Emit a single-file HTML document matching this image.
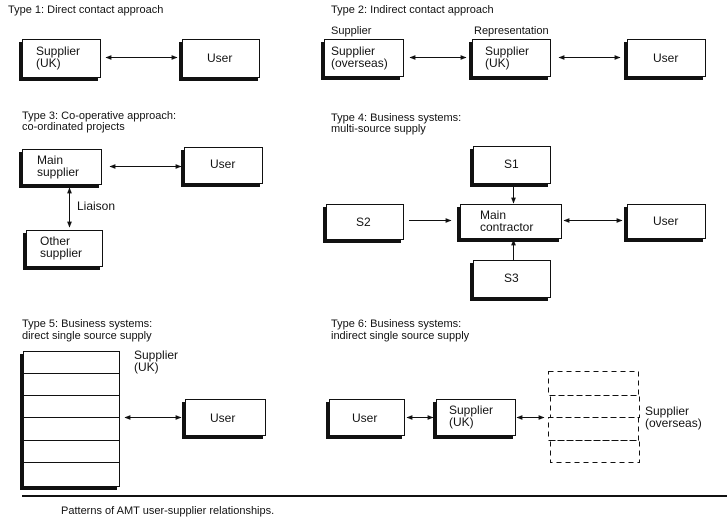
<!DOCTYPE html>
<html><head><style>
html,body{margin:0;padding:0;background:#fff;}
svg{display:block;}
text{font-family:"Liberation Sans",sans-serif;font-size:11px;fill:#111;}
text.b{font-size:12px;}
</style></head><body>
<svg width="727" height="525" viewBox="0 0 727 525">
<defs>
<marker id="a" viewBox="0 0 10 10" refX="9" refY="5" markerWidth="6" markerHeight="6" orient="auto-start-reverse"><path d="M0,1 L10,5 L0,9 Z" fill="#111"/></marker>
</defs>
<g fill="#111">
<rect x="19" y="42" width="79" height="39"/>
<rect x="179" y="42" width="79" height="39"/>
<rect x="321" y="42" width="79" height="38"/>
<rect x="469" y="42" width="79" height="38"/>
<rect x="624" y="42" width="79" height="38"/>
<rect x="19" y="152" width="80" height="36"/>
<rect x="181" y="150" width="79" height="37"/>
<rect x="23" y="233" width="77" height="37"/>
<rect x="470" y="149" width="78" height="38"/>
<rect x="323" y="207" width="78" height="36"/>
<rect x="457" y="207" width="102" height="35"/>
<rect x="624" y="207" width="79" height="35"/>
<rect x="470" y="263" width="78" height="38"/>
<rect x="20" y="354" width="97" height="136"/>
<rect x="182" y="402" width="81" height="37"/>
<rect x="326" y="402" width="76" height="37"/>
<rect x="433" y="402" width="80" height="37"/>
</g>
<g stroke="#111" stroke-width="1" fill="#fff">
<rect x="22.5" y="39.5" width="78" height="38"/>
<rect x="182.5" y="39.5" width="77" height="38"/>
<rect x="324.5" y="39.5" width="79" height="37"/>
<rect x="472.5" y="39.5" width="78" height="37"/>
<rect x="627.5" y="39.5" width="78" height="37"/>
<rect x="22.5" y="149.5" width="79" height="35"/>
<rect x="184.5" y="147.5" width="78" height="36"/>
<rect x="26.5" y="230.5" width="76" height="36"/>
<rect x="473.5" y="146.5" width="77" height="37"/>
<rect x="326.5" y="204.5" width="77" height="35"/>
<rect x="460.5" y="204.5" width="101" height="34"/>
<rect x="627.5" y="204.5" width="78" height="34"/>
<rect x="473.5" y="260.5" width="77" height="37"/>
<rect x="23.5" y="351.5" width="96" height="135"/>
<rect x="185.5" y="399.5" width="80" height="36"/>
<rect x="329.5" y="399.5" width="75" height="36"/>
<rect x="436.5" y="399.5" width="79" height="36"/>
</g>
<g stroke="#111" stroke-width="1">
<line x1="24" y1="373.5" x2="119" y2="373.5"/>
<line x1="24" y1="395.5" x2="119" y2="395.5"/>
<line x1="24" y1="417.5" x2="119" y2="417.5"/>
<line x1="24" y1="440.5" x2="119" y2="440.5"/>
<line x1="24" y1="462.5" x2="119" y2="462.5"/>
</g>
<g stroke="#111" stroke-width="1" fill="none" stroke-dasharray="5,4">
<rect x="548.5" y="371.5" width="90" height="24"/>
<rect x="550.5" y="395.5" width="89" height="22"/>
<rect x="548.5" y="417.5" width="90" height="23"/>
<rect x="550.5" y="440.5" width="89" height="22"/>
</g>
<g stroke="#111" stroke-width="1" marker-start="url(#a)" marker-end="url(#a)">
<line x1="106" y1="57.5" x2="177" y2="57.5"/>
<line x1="410" y1="57.5" x2="466" y2="57.5"/>
<line x1="559" y1="57.5" x2="620" y2="57.5"/>
<line x1="110" y1="166.5" x2="181" y2="166.5"/>
<line x1="69.5" y1="188" x2="69.5" y2="227"/>
<line x1="564" y1="220.5" x2="622" y2="220.5"/>
<line x1="125" y1="417.5" x2="181" y2="417.5"/>
<line x1="407" y1="417.5" x2="433" y2="417.5"/>
<line x1="517" y1="417.5" x2="544" y2="417.5"/>
</g>
<g stroke="#111" stroke-width="1" marker-end="url(#a)">
<line x1="409" y1="220.5" x2="451" y2="220.5"/>
<line x1="513.5" y1="184" x2="513.5" y2="203"/>
<line x1="513.5" y1="260" x2="513.5" y2="240"/>
</g>
<line x1="22" y1="496" x2="727" y2="496" stroke="#111" stroke-width="2"/>
<text x="8" y="13">Type 1: Direct contact approach</text>
<text x="331" y="13">Type 2: Indirect contact approach</text>
<text x="331" y="34">Supplier</text>
<text x="474" y="34">Representation</text>
<text class="b" x="36" y="55">Supplier</text><text class="b" x="36" y="67">(UK)</text>
<text class="b" x="207" y="62">User</text>
<text class="b" x="331" y="55">Supplier</text><text class="b" x="331" y="67">(overseas)</text>
<text class="b" x="485" y="55">Supplier</text><text class="b" x="485" y="67">(UK)</text>
<text class="b" x="653" y="62">User</text>
<text x="22" y="119">Type 3: Co-operative approach:</text>
<text x="22" y="130">co-ordinated projects</text>
<text x="331" y="121">Type 4: Business systems:</text>
<text x="331" y="132">multi-source supply</text>
<text class="b" x="37" y="164">Main</text><text class="b" x="37" y="176">supplier</text>
<text class="b" x="210" y="168">User</text>
<text class="b" x="77" y="210">Liaison</text>
<text class="b" x="40" y="245">Other</text><text class="b" x="40" y="257">supplier</text>
<text class="b" x="504" y="168">S1</text>
<text class="b" x="356" y="226">S2</text>
<text class="b" x="480" y="219">Main</text><text class="b" x="480" y="231">contractor</text>
<text class="b" x="653" y="225">User</text>
<text class="b" x="504" y="282">S3</text>
<text x="22" y="327">Type 5: Business systems:</text>
<text x="22" y="339">direct single source supply</text>
<text x="331" y="327">Type 6: Business systems:</text>
<text x="331" y="339">indirect single source supply</text>
<text class="b" x="134" y="359">Supplier</text><text class="b" x="134" y="371">(UK)</text>
<text class="b" x="210" y="422">User</text>
<text class="b" x="352" y="422">User</text>
<text class="b" x="449" y="414">Supplier</text><text class="b" x="449" y="426">(UK)</text>
<text class="b" x="645" y="415">Supplier</text><text class="b" x="645" y="427">(overseas)</text>
<text x="61" y="514">Patterns of AMT user-supplier relationships.</text>
</svg>
</body></html>
